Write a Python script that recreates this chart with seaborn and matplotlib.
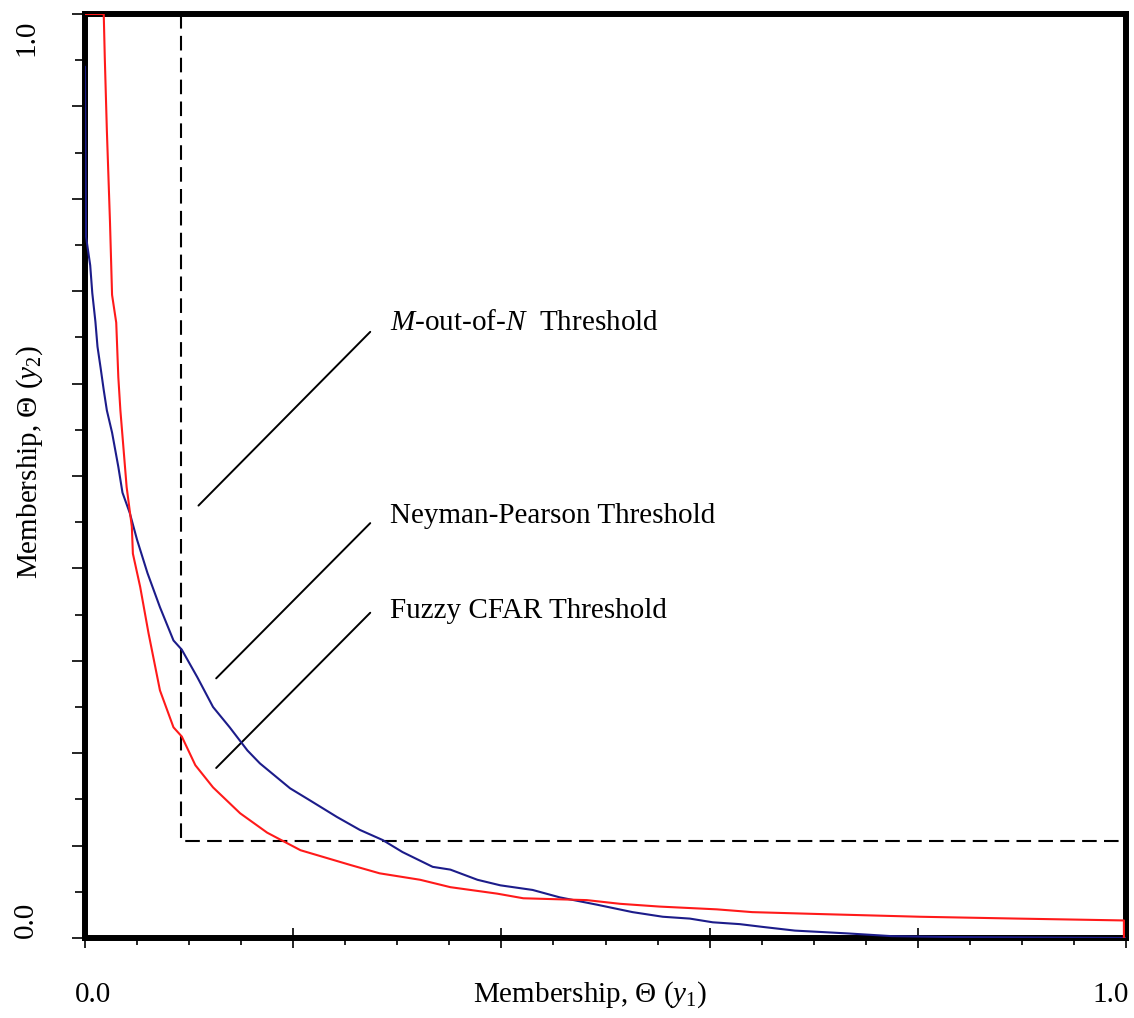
import numpy as np
import pandas as pd
import seaborn as sns
import matplotlib
matplotlib.use("Agg")
import matplotlib.pyplot as plt
from matplotlib.ticker import MultipleLocator, NullFormatter

# fuzzy CFAR threshold (red)
fuzzy_x = [0.0, 0.018, 0.019, 0.021, 0.024, 0.026, 0.030, 0.032, 0.034, 0.040,
           0.045, 0.046, 0.053, 0.061, 0.072, 0.085, 0.093, 0.106, 0.123, 0.149,
           0.175, 0.207, 0.255, 0.283, 0.322, 0.351, 0.396, 0.421, 0.482, 0.514,
           0.552, 0.607, 0.641, 0.703, 0.802, 0.896, 0.998, 0.998]
fuzzy_y = [1.0, 1.0, 0.953, 0.874, 0.775, 0.696, 0.666, 0.607, 0.571, 0.488,
           0.445, 0.416, 0.380, 0.330, 0.268, 0.228, 0.218, 0.187, 0.163, 0.135,
           0.114, 0.095, 0.079, 0.070, 0.063, 0.055, 0.048, 0.043, 0.041, 0.037,
           0.034, 0.031, 0.028, 0.026, 0.023, 0.021, 0.019, 0.0]

# Neyman-Pearson threshold (blue)
np_x = [0.0, 0.001, 0.005, 0.007, 0.010, 0.012, 0.015, 0.018, 0.021, 0.026,
        0.032, 0.036, 0.043, 0.050, 0.060, 0.072, 0.085, 0.093, 0.108, 0.123,
        0.139, 0.156, 0.168, 0.197, 0.216, 0.242, 0.264, 0.286, 0.305, 0.334,
        0.351, 0.377, 0.399, 0.430, 0.456, 0.492, 0.526, 0.555, 0.581, 0.603,
        0.629, 0.651, 0.682, 0.732, 0.775, 0.833, 1.0]
np_y = [0.943, 0.759, 0.728, 0.698, 0.667, 0.640, 0.617, 0.593, 0.571, 0.547,
        0.510, 0.482, 0.460, 0.431, 0.395, 0.358, 0.322, 0.312, 0.282, 0.250,
        0.228, 0.203, 0.189, 0.162, 0.149, 0.131, 0.117, 0.106, 0.093, 0.077,
        0.074, 0.063, 0.057, 0.052, 0.044, 0.036, 0.028, 0.023, 0.021, 0.017,
        0.015, 0.012, 0.008, 0.005, 0.002, 0.001, 0.0]

# M-out-of-N threshold corner
mn_x = 0.092
mn_y = 0.105

labels = ["$M$-out-of-$N$  Threshold", "Neyman-Pearson Threshold", "Fuzzy CFAR Threshold"]
label_y = [0.658, 0.449, 0.346]
pointer_start = [(0.109, 0.468), (0.126, 0.281), (0.126, 0.184)]
pointer_end = [(0.274, 0.656), (0.274, 0.449), (0.274, 0.352)]

sns.set_theme(style="white")
plt.rcParams["font.family"] = ["Liberation Serif", "DejaVu Serif"]
plt.rcParams["mathtext.fontset"] = "custom"
plt.rcParams["mathtext.rm"] = "Liberation Serif"
plt.rcParams["mathtext.it"] = "Liberation Serif:italic"
plt.rcParams["text.color"] = "black"
plt.rcParams["axes.labelcolor"] = "black"

fig = plt.figure(figsize=(11.34, 10.18), dpi=100)
ax = fig.add_axes([85 / 1134, 80 / 1018, 1041 / 1134, 924 / 1018])

fuzzy = pd.DataFrame({"x": fuzzy_x, "y": fuzzy_y})
neyman = pd.DataFrame({"x": np_x, "y": np_y})
sns.lineplot(data=neyman, x="x", y="y", ax=ax, color="#1c1c8a", lw=1.5,
             estimator=None, sort=False, zorder=3)
sns.lineplot(data=fuzzy, x="x", y="y", ax=ax, color="#ff1a1a", lw=1.5,
             estimator=None, sort=False, zorder=3)

# M-out-of-N region boundary
ax.plot([mn_x, mn_x, 1.0], [1.0, mn_y, mn_y], color="black", lw=1.5,
        dashes=(7, 3.5))

for txt, ty, p0, p1 in zip(labels, label_y, pointer_start, pointer_end):
    ax.plot([p0[0], p1[0]], [p0[1], p1[1]], color="black", lw=1.4)
    ax.text(0.293, ty, txt, fontsize=21, ha="left", va="baseline")

ax.set_xlim(0, 1)
ax.set_ylim(0, 1)
for s in ax.spines.values():
    s.set_linewidth(4.3)
    s.set_color("black")
    s.set_visible(True)

ax.xaxis.set_major_locator(MultipleLocator(0.2))
ax.xaxis.set_minor_locator(MultipleLocator(0.05))
ax.yaxis.set_major_locator(MultipleLocator(0.1))
ax.yaxis.set_minor_locator(MultipleLocator(0.05))
ax.xaxis.set_major_formatter(NullFormatter())
ax.yaxis.set_major_formatter(NullFormatter())
ax.tick_params(axis="x", which="major", direction="inout", length=14, width=1.2,
               bottom=True, color="black")
ax.tick_params(axis="x", which="minor", direction="out", length=5, width=1.2,
               bottom=True, color="black")
ax.tick_params(axis="y", which="major", direction="out", length=9.5, width=1.2,
               left=True, color="black")
ax.tick_params(axis="y", which="minor", direction="out", length=7, width=1.2,
               left=True, color="black")

# end labels sit away from the ticks in the original
ax.text(0.0077, -0.0617, "0.0", transform=ax.transAxes, fontsize=21,
        ha="center", va="center")
ax.text(0.985, -0.0617, "1.0", transform=ax.transAxes, fontsize=21,
        ha="center", va="center")
ax.text(-0.0567, 0.974, "1.0", transform=ax.transAxes, fontsize=21,
        ha="center", va="center", rotation=90)
ax.text(-0.0567, 0.0195, "0.0", transform=ax.transAxes, fontsize=21,
        ha="center", va="center", rotation=90)

ax.set_xlabel(r"Membership, Θ ($y_1$)", fontsize=21, va="center")
ax.set_ylabel(r"Membership, Θ ($y_2$)", fontsize=21, va="center")
ax.xaxis.set_label_coords(0.485, -0.0617)
ax.yaxis.set_label_coords(-0.0528, 0.515)

fig.savefig("out.png", dpi=100, facecolor="white")
